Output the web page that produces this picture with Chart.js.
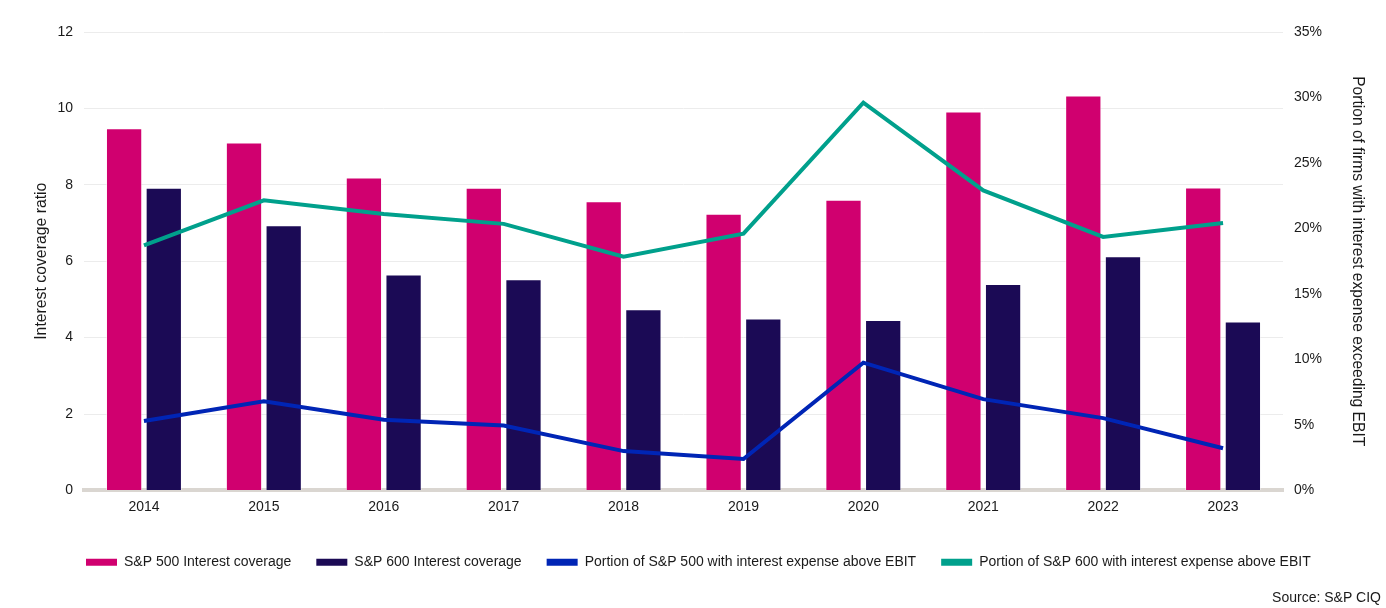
<!DOCTYPE html>
<html>
<head>
<meta charset="utf-8">
<script src="https://cdn.jsdelivr.net/npm/chart.js@4.4.1/dist/chart.umd.min.js"></script>
<style>
  html, body { margin: 0; padding: 0; background: #ffffff; }
  #wrap { position: relative; width: 1386px; height: 608px; }
</style>
</head>
<body>
<div id="wrap"><canvas id="c" width="1386" height="608"></canvas></div>
<script>
const years = ['2014', '2015', '2016', '2017', '2018', '2019', '2020', '2021', '2022', '2023'];
const sp500Coverage = [9.48, 9.11, 8.19, 7.92, 7.57, 7.24, 7.61, 9.92, 10.34, 7.93];
const sp600Coverage = [7.92, 6.94, 5.65, 5.53, 4.74, 4.50, 4.46, 5.40, 6.13, 4.42];
const sp500AboveEbit = [5.3, 6.8, 5.4, 4.95, 3.0, 2.4, 9.75, 6.97, 5.52, 3.22];
const sp600AboveEbit = [18.7, 22.15, 21.1, 20.35, 17.85, 19.6, 29.6, 22.9, 19.35, 20.42];
const leftTicks = [0, 2, 4, 6, 8, 10, 12];
const rightTicks = [0, 5, 10, 15, 20, 25, 30, 35];

const FONT = "'Liberation Sans', Arial, sans-serif";
const TXT = '#1a1a1a';

const legendShift = {
  id: 'legendShift',
  afterLayout(chart) {
    if (chart.legend) { chart.legend.left = 61; }
  }
};

new Chart(document.getElementById('c'), {
  type: 'bar',
  data: {
    labels: years,
    datasets: [
      { label: 'S&P 500 Interest coverage', data: sp500Coverage, yAxisID: 'y',
        backgroundColor: '#D0006F', borderColor: 'rgba(255,255,255,0.55)', borderWidth: 1,
        categoryPercentage: 0.662, barPercentage: 0.914, order: 2 },
      { label: 'S&P 600 Interest coverage', data: sp600Coverage, yAxisID: 'y',
        backgroundColor: '#1B0A55', borderColor: 'rgba(255,255,255,0.45)', borderWidth: 1,
        categoryPercentage: 0.662, barPercentage: 0.914, order: 2 },
      { type: 'line', label: 'Portion of S&P 500 with interest expense above EBIT', data: sp500AboveEbit, yAxisID: 'y1',
        borderColor: '#0025B5', backgroundColor: '#0025B5', borderWidth: 4, pointRadius: 0, tension: 0, order: 1 },
      { type: 'line', label: 'Portion of S&P 600 with interest expense above EBIT', data: sp600AboveEbit, yAxisID: 'y1',
        borderColor: '#00A08C', backgroundColor: '#00A08C', borderWidth: 4, pointRadius: 0, tension: 0, order: 1 }
    ]
  },
  options: {
    responsive: false,
    animation: false,
    layout: { padding: { top: 32, right: 5, bottom: 1, left: 0 } },
    plugins: {
      tooltip: { enabled: false },
      legend: {
        position: 'bottom',
        align: 'start',
        labels: {
          boxWidth: 31, boxHeight: 7, padding: 25,
          color: TXT, font: { family: FONT, size: 14 },
          sort: (a, b) => a.datasetIndex - b.datasetIndex,
          generateLabels: (chart) => Chart.defaults.plugins.legend.labels.generateLabels(chart)
            .map(item => Object.assign(item, { lineWidth: 0 }))
        }
      },
      subtitle: {
        display: true, text: 'Source: S&P CIQ', position: 'bottom', align: 'end',
        color: TXT, font: { family: FONT, size: 14, weight: 'normal' },
        padding: { top: 11, bottom: 0 }
      }
    },
    scales: {
      x: {
        afterFit: (s) => { s.height = s.height + 7; },
        grid: { display: false, drawTicks: false },
        border: { display: true, color: '#DAD6D1', width: 4 },
        ticks: { color: TXT, font: { family: FONT, size: 14 }, padding: 8 }
      },
      y: {
        position: 'left', min: 0, max: 12,
        afterBuildTicks: (s) => { s.ticks = leftTicks.map(v => ({ value: v })); },
        afterFit: (s) => { s.width = 84; },
        grid: { color: '#ECECEC', lineWidth: 1, drawTicks: false },
        border: { display: false },
        ticks: { color: TXT, font: { family: FONT, size: 14 }, padding: 11 },
        title: { display: true, text: 'Interest coverage ratio', color: TXT,
          font: { family: FONT, size: 15.8 }, padding: { top: 32, bottom: 0 } }
      },
      y1: {
        position: 'right', min: 0, max: 35,
        afterBuildTicks: (s) => { s.ticks = rightTicks.map(v => ({ value: v })); },
        afterFit: (s) => { s.width = 98; },
        grid: { display: false, drawTicks: false },
        border: { display: false },
        ticks: { color: TXT, font: { family: FONT, size: 14 }, padding: 11, callback: (v) => v + '%' },
        title: { display: true, text: 'Portion of firms with interest expense exceeding EBIT', color: TXT,
          font: { family: FONT, size: 15.6 }, padding: { top: 14, bottom: 0 } }
      }
    }
  },
  plugins: [legendShift]
});
</script>
</body>
</html>
